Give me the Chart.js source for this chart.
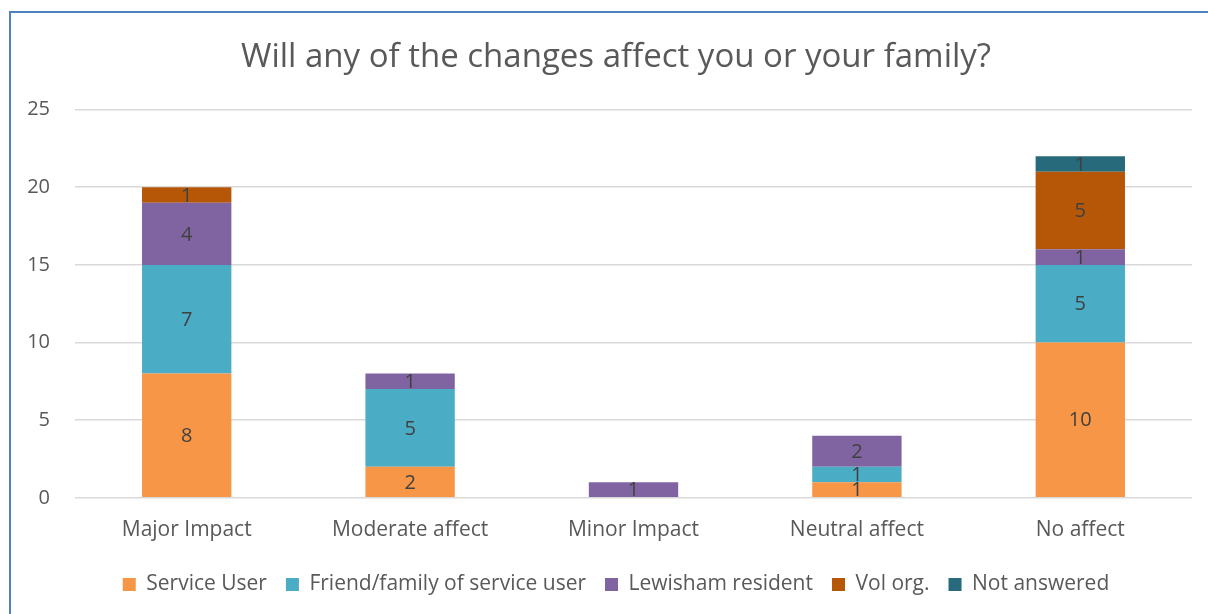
<!DOCTYPE html>
<html>
<head>
<meta charset="utf-8">
<script src="https://cdn.jsdelivr.net/npm/chart.js@4"></script>
<style>
  html, body { margin: 0; padding: 0; background: #fff; }
  #wrap { position: relative; width: 1208px; height: 614px; overflow: hidden; }
  #chart { position: absolute; left: 0; top: 0; }
  #frame { position: absolute; left: 9px; top: 11px; width: 1300px; height: 700px;
           border-left: 2px solid #4F81BD; border-top: 2px solid #4F81BD; pointer-events: none; }
</style>
</head>
<body>
<div id="wrap">
  <canvas id="chart" width="1232" height="614"></canvas>
  <div id="frame"></div>
</div>
<script>
const categories = ['Major Impact', 'Moderate affect', 'Minor Impact', 'Neutral affect', 'No affect'];
const serviceUser = [8, 2, 0, 1, 10];
const friendFamily = [7, 5, 0, 1, 5];
const lewishamResident = [4, 1, 1, 2, 1];
const volOrg = [1, 0, 0, 0, 5];
const notAnswered = [0, 0, 0, 0, 1];
const yTicks = [0, 5, 10, 15, 20, 25];

const FONT = '"Open Sans", Lato, sans-serif';

// labels in the middle of each segment, skipping zeros
const segmentLabels = {
    id: 'segmentLabels',
    afterDatasetsDraw(chart) {
        const ctx = chart.ctx;
        ctx.save();
        ctx.font = '20px ' + FONT;
        ctx.fillStyle = '#404040';
        ctx.textAlign = 'center';
        ctx.textBaseline = 'middle';
        chart.data.datasets.forEach((ds, i) => {
            const meta = chart.getDatasetMeta(i);
            meta.data.forEach((bar, j) => {
                const v = ds.data[j];
                if (!v) return;
                ctx.fillText(String(v), bar.x, (bar.y + bar.base) / 2 + 1);
            });
        });
        ctx.restore();
    }
};

const ctx = document.getElementById('chart').getContext('2d');
new Chart(ctx, {
    type: 'bar',
    data: {
        labels: categories,
        datasets: [
            { label: 'Service User', data: serviceUser, backgroundColor: '#F79646' },
            { label: 'Friend/family of service user', data: friendFamily, backgroundColor: '#4BACC6' },
            { label: 'Lewisham resident', data: lewishamResident, backgroundColor: '#8064A2' },
            { label: 'Vol org.', data: volOrg, backgroundColor: '#B65708' },
            { label: 'Not answered', data: notAnswered, backgroundColor: '#276A7C' }
        ]
    },
    options: {
        responsive: false,
        animation: false,
        layout: { padding: { left: 0, right: 0, top: 0, bottom: 9 } },
        datasets: { bar: { categoryPercentage: 1, barPercentage: 0.4 } },
        scales: {
            x: {
                stacked: true,
                grid: { display: false },
                border: { display: false },
                ticks: { color: '#595959', font: { family: FONT, size: 21 }, padding: 12 }
            },
            y: {
                stacked: true,
                min: 0,
                max: 25,
                afterBuildTicks: axis => { axis.ticks = yTicks.map(v => ({ value: v })); },
                afterFit: axis => { axis.width = 75; },
                grid: { color: '#d9d9d9', lineWidth: 1.5, drawTicks: false },
                border: { display: false },
                ticks: { color: '#595959', font: { family: FONT, size: 20 }, padding: 25 }
            },
            // empty right axis, only keeps the plot clear of the right edge
            yRight: {
                position: 'right',
                min: 0,
                max: 25,
                afterFit: axis => { axis.width = 40; },
                grid: { display: false },
                border: { display: false },
                ticks: { display: false }
            }
        },
        plugins: {
            title: {
                display: true,
                text: 'Will any of the changes affect you or your family?',
                color: '#595959',
                font: { family: FONT, size: 33, weight: 'normal' },
                padding: { top: 38, bottom: 32 }
            },
            legend: {
                position: 'bottom',
                labels: {
                    color: '#595959',
                    font: { family: FONT, size: 21 },
                    boxWidth: 13,
                    boxHeight: 13,
                    padding: 19
                }
            },
            tooltip: { enabled: false }
        }
    },
    plugins: [segmentLabels]
});
</script>
</body>
</html>
